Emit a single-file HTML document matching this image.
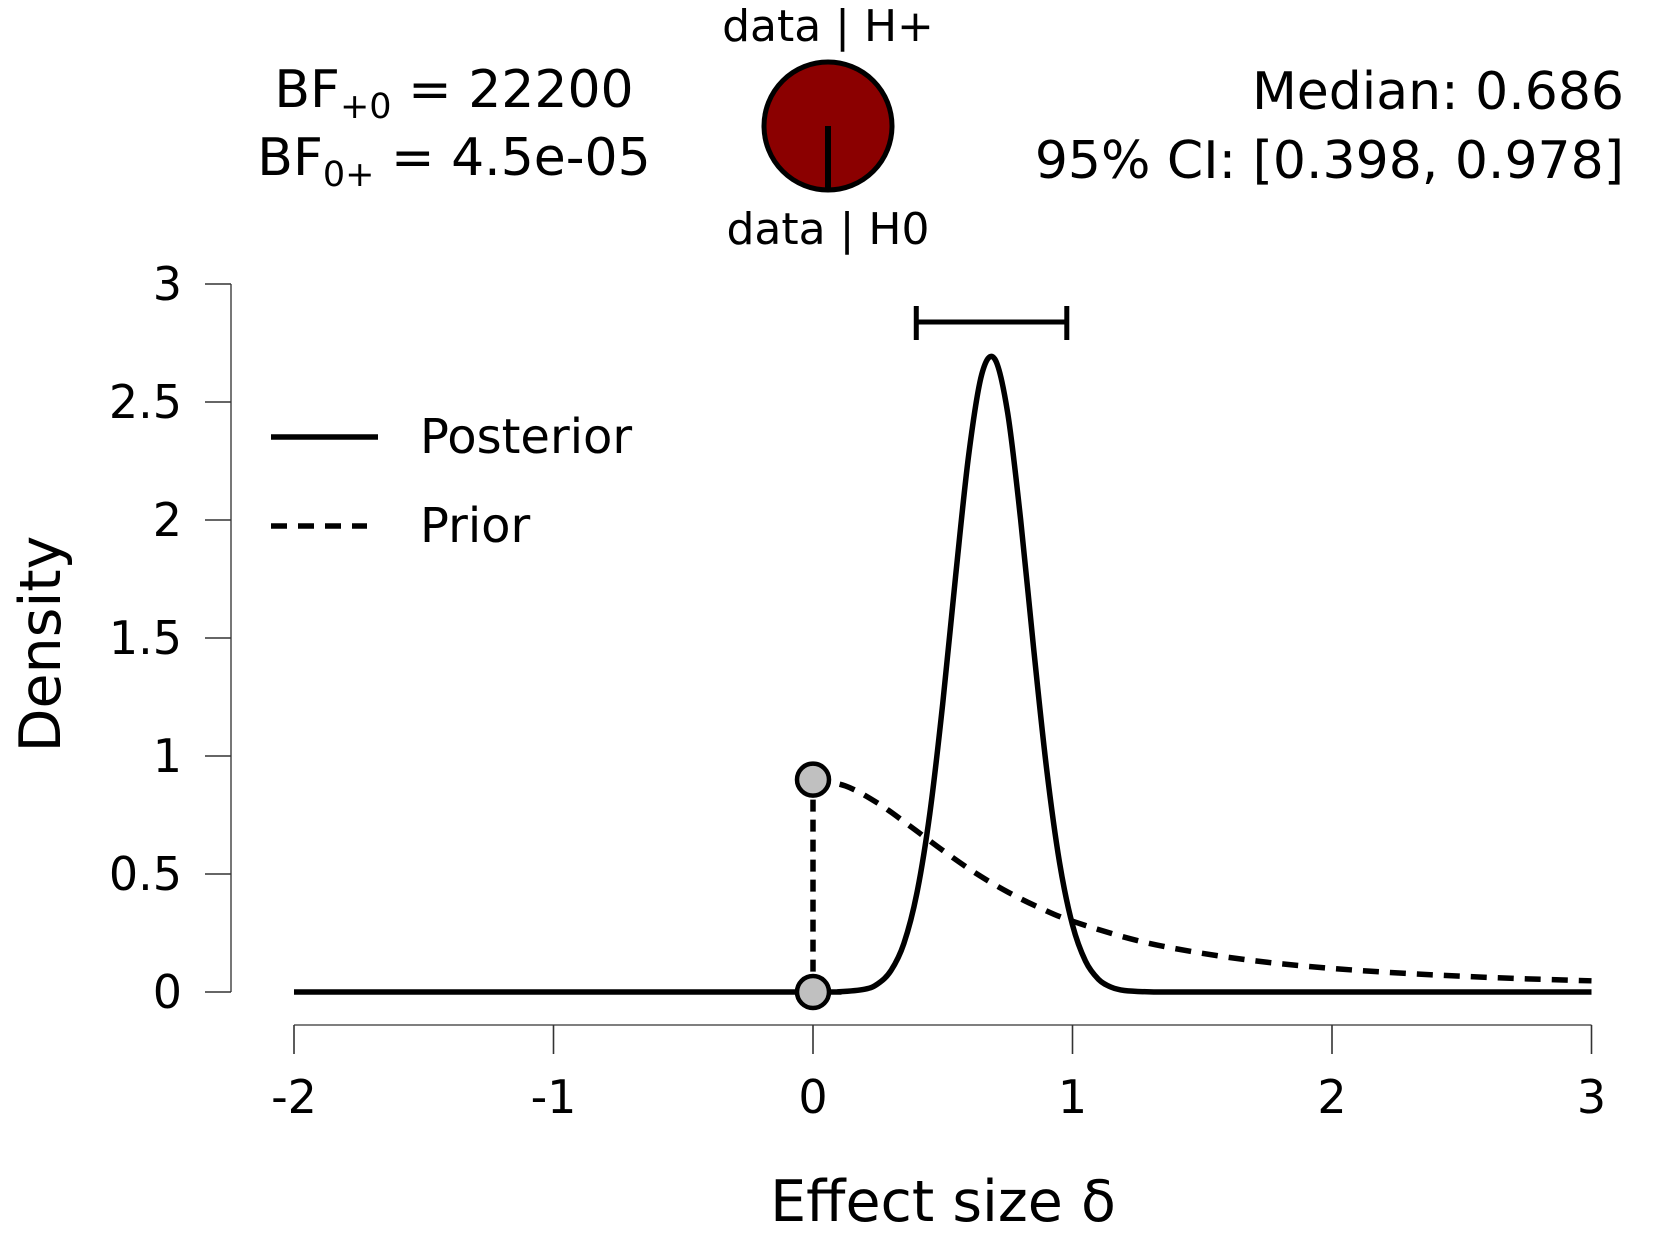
<!DOCTYPE html>
<html><head><meta charset="utf-8"><style>
html,body{margin:0;padding:0;background:#fff}
svg{display:block;font-family:"DejaVu Sans","Liberation Sans",sans-serif}
</style></head><body>
<svg id="chart" width="1656" height="1250" viewBox="0 0 1656 1250" xmlns="http://www.w3.org/2000/svg">
<g>
<text x="454" y="107" font-size="52" text-anchor="middle">BF<tspan font-size="35" dy="11">+0</tspan><tspan dy="-11"> = 22200</tspan></text>
<text x="454" y="175" font-size="52" text-anchor="middle">BF<tspan font-size="35" dy="11">0+</tspan><tspan dy="-11"> = 4.5e-05</tspan></text>
<text x="828" y="41" font-size="44" text-anchor="middle">data | H+</text>
<text x="828" y="244" font-size="44" text-anchor="middle">data | H0</text>
<circle cx="828" cy="126" r="64" fill="#8b0000" stroke="#000" stroke-width="5"/>
<line x1="828" y1="126" x2="828" y2="190" stroke="#000" stroke-width="6"/>
<text x="1624" y="109" font-size="52" text-anchor="end">Median: 0.686</text>
<text x="1624" y="178" font-size="52" text-anchor="end">95% CI: [0.398, 0.978]</text>
</g>
<g id="axes"></g>
<g id="marks"></g>
<g>
<line x1="271" y1="437" x2="378" y2="437" stroke="#000" stroke-width="5.5"/>
<text x="420" y="453" font-size="48">Posterior</text>
<line x1="271" y1="526" x2="367" y2="526" stroke="#000" stroke-width="5.5" stroke-dasharray="16,11"/>
<text x="420" y="542" font-size="48">Prior</text>
</g>
<text transform="translate(60,644) rotate(-90)" font-size="57" text-anchor="middle">Density</text>
<text x="943" y="1221" font-size="57" text-anchor="middle">Effect size δ</text>
</svg>
<script>
const xTicks = [-2, -1, 0, 1, 2, 3];
const yTicks = [0, 0.5, 1, 1.5, 2, 2.5, 3];
const yTickLabels = ["0", "0.5", "1", "1.5", "2", "2.5", "3"];
const posteriorX = [-2, -1, 0, 0.1, 0.2, 0.25, 0.3, 0.35, 0.4, 0.45, 0.5, 0.55, 0.6, 0.65, 0.7, 0.75, 0.8, 0.85, 0.9, 0.95, 1.0, 1.05, 1.1, 1.15, 1.2, 1.3, 1.4, 2, 3];
const posteriorY = [0, 0, 0.0001, 0.001, 0.012, 0.035, 0.090, 0.205, 0.417, 0.755, 1.223, 1.767, 2.276, 2.616, 2.683, 2.455, 2.003, 1.458, 0.948, 0.549, 0.284, 0.131, 0.054, 0.020, 0.0065, 0.0004, 0, 0, 0];
const priorX = [0, 0.125, 0.25, 0.375, 0.5, 0.625, 0.75, 0.875, 1, 1.25, 1.5, 1.75, 2, 2.25, 2.5, 2.75, 3];
const priorY = [0.900, 0.873, 0.800, 0.702, 0.600, 0.505, 0.424, 0.356, 0.300, 0.218, 0.164, 0.126, 0.100, 0.081, 0.0667, 0.0558, 0.0474];
const ciLower = 0.398, ciUpper = 0.978;
const priorAtZero = 0.9, posteriorAtZero = 0;

const NS = "http://www.w3.org/2000/svg";
const X0 = 294, XU = 259.5, Y0 = 992, YU = 236;
function sx(v){ return X0 + (v + 2) * XU; }
function sy(v){ return Y0 - v * YU; }
function mk(tag, attrs, parent){ const e = document.createElementNS(NS, tag); for (const k in attrs) e.setAttribute(k, attrs[k]); parent.appendChild(e); return e; }
const axes = document.getElementById('axes');
const marks = document.getElementById('marks');

let ya = mk('line', {x1: 231, y1: sy(3), x2: 231, y2: sy(0), stroke: '#555', 'stroke-width': 1.6}, axes);


yTicks.forEach((t, i) => {
  let l = mk('line', {x1: 205, y1: sy(t), x2: 231, y2: sy(t), stroke: '#333', 'stroke-width': 1.6}, axes);
  
  
  let tx = mk('text', {x: 182, y: sy(t) + 16, 'font-size': 46, 'text-anchor': 'end'}, axes);
  tx.textContent = yTickLabels[i];
  
  
});
let xa = mk('line', {x1: sx(-2), y1: 1025, x2: sx(3), y2: 1025, stroke: '#555', 'stroke-width': 1.6}, axes);


xTicks.forEach(t => {
  let l = mk('line', {x1: sx(t), y1: 1025, x2: sx(t), y2: 1054, stroke: '#333', 'stroke-width': 1.6}, axes);
  
  
  let tx = mk('text', {x: sx(t), y: 1113, 'font-size': 46, 'text-anchor': 'middle'}, axes);
  tx.textContent = String(t);
  
  
});

function smoothPath(xs, ys){
  const p = xs.map((x, i) => [sx(x), sy(ys[i])]);
  let d = 'M' + p[0][0] + ',' + p[0][1];
  for (let i = 0; i < p.length - 1; i++) {
    const p0 = p[i - 1] || p[i], p1 = p[i], p2 = p[i + 1], p3 = p[i + 2] || p2;
    const c1 = [p1[0] + (p2[0] - p0[0]) / 6, p1[1] + (p2[1] - p0[1]) / 6];
    const c2 = [p2[0] - (p3[0] - p1[0]) / 6, p2[1] - (p3[1] - p1[1]) / 6];
    d += ' C' + c1[0] + ',' + c1[1] + ' ' + c2[0] + ',' + c2[1] + ' ' + p2[0] + ',' + p2[1];
  }
  return d;
}
let pr = mk('path', {d: smoothPath(priorX, priorY), fill: 'none', stroke: '#000', 'stroke-width': 5.5, 'stroke-dasharray': '16,11'}, marks);


let po = mk('path', {d: smoothPath(posteriorX, posteriorY), fill: 'none', stroke: '#000', 'stroke-width': 5.5}, marks);


let vl = mk('line', {x1: sx(0), y1: sy(priorAtZero), x2: sx(0), y2: sy(posteriorAtZero), stroke: '#000', 'stroke-width': 5.5, 'stroke-dasharray': '12,8'}, marks);


let c1 = mk('circle', {cx: sx(0), cy: sy(priorAtZero), r: 16, fill: '#c0c0c0', stroke: '#000', 'stroke-width': 4.5}, marks);


let c2 = mk('circle', {cx: sx(0), cy: sy(posteriorAtZero), r: 16, fill: '#c0c0c0', stroke: '#000', 'stroke-width': 4.5}, marks);


const ciY = 322;
let ci = mk('path', {d: 'M' + sx(ciLower) + ',' + ciY + ' H' + sx(ciUpper) + ' M' + sx(ciLower) + ',306 V340 M' + sx(ciUpper) + ',306 V340', fill: 'none', stroke: '#000', 'stroke-width': 5}, marks);


</script>
</body></html>
